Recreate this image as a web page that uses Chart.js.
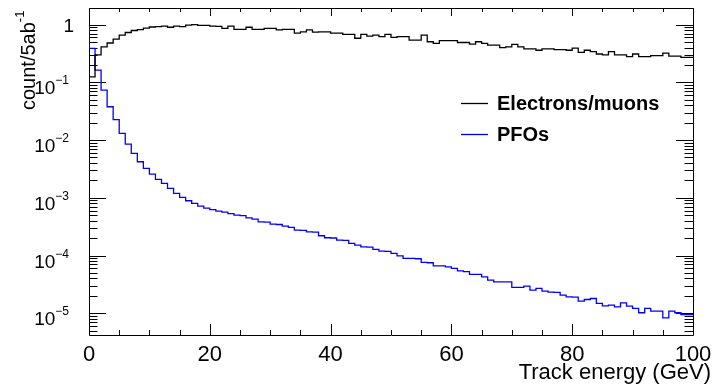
<!DOCTYPE html>
<html>
<head>
<meta charset="utf-8">
<script src="https://cdn.jsdelivr.net/npm/chart.js@4.4.1/dist/chart.umd.min.js"></script>
<style>
  html, body { margin: 0; padding: 0; background: #fff; }
</style>
</head>
<body>
<canvas id="chartEnergy" width="722" height="386"></canvas>
<script>
// histogram bins, 1 GeV wide, lower edges
const binLow = Array.from({ length: 100 }, (_, i) => i);
const binHigh = 100;

const leptonCounts = [
    0.012, 0.124, 0.30, 0.41, 0.48, 0.56, 0.66, 0.73, 0.79, 0.82,
    0.87, 0.91, 0.92, 0.945, 0.90, 0.945, 0.92, 0.98, 1.0, 0.97,
    0.97, 0.945, 0.93, 0.86, 0.945, 0.83, 0.83, 0.90, 0.83, 0.83,
    0.86, 0.86, 0.81, 0.83, 0.83, 0.71, 0.75, 0.81, 0.74, 0.75,
    0.75, 0.71, 0.71, 0.68, 0.68, 0.58, 0.68, 0.63, 0.66, 0.62,
    0.68, 0.60, 0.62, 0.62, 0.54, 0.54, 0.66, 0.505, 0.475, 0.53,
    0.53, 0.53, 0.49, 0.49, 0.46, 0.505, 0.475, 0.44, 0.44, 0.40,
    0.41, 0.455, 0.41, 0.38, 0.38, 0.36, 0.38, 0.38, 0.37, 0.37,
    0.36, 0.39, 0.33, 0.36, 0.34, 0.31, 0.30, 0.34, 0.30, 0.30,
    0.28, 0.31, 0.28, 0.28, 0.29, 0.29, 0.32, 0.285, 0.285, 0.27
];

const pfoCounts = [
    1.0, 0.388, 0.163, 0.0736, 0.0378, 0.0226, 0.0131, 0.00853, 0.00588, 0.00421,
    0.00323, 0.00258, 0.00209, 0.00178, 0.00146, 0.00119, 0.00102, 0.000888, 0.000800, 0.000718,
    0.000663, 0.000625, 0.000588, 0.000565, 0.000532, 0.000501, 0.000490, 0.000450, 0.000427, 0.000384,
    0.000380, 0.000350, 0.000345, 0.000323, 0.000307, 0.000275, 0.000272, 0.000257, 0.000255, 0.000220,
    0.000203, 0.000201, 0.000185, 0.000183, 0.000162, 0.000151, 0.000141, 0.000140, 0.000128, 0.000119,
    0.000118, 0.000109, 0.0000988, 0.0000891, 0.000089, 0.000088, 0.0000760, 0.000075, 0.0000663, 0.000066,
    0.0000637, 0.0000597, 0.0000543, 0.0000526, 0.0000470, 0.000047, 0.0000428, 0.0000375, 0.0000350, 0.000035,
    0.000035, 0.0000280, 0.000028, 0.0000295, 0.0000251, 0.0000269, 0.0000242, 0.0000232, 0.000023, 0.0000206,
    0.0000192, 0.000019, 0.0000162, 0.0000173, 0.0000180, 0.0000148, 0.0000134, 0.0000138, 0.0000129, 0.0000151,
    0.0000133, 0.0000121, 0.0000102, 0.0000121, 0.0000109, 0.0000109, 0.0000083, 0.0000109, 0.0000102, 0.0000095
];

const seriesNames = ['Electrons/muons', 'PFOs'];
const xTickLabels = [0, 20, 40, 60, 80, 100];
const yTickExponents = [0, -1, -2, -3, -4, -5];
const yRange = [4.2e-6, 1.94];

const FONT = '"Liberation Sans", Arial, Helvetica, sans-serif';

// step histogram -> points at bin edges
function toSteps(vals) {
    const pts = binLow.map((x, i) => ({ x: x, y: vals[i] }));
    pts.push({ x: binHigh, y: vals[vals.length - 1] });
    return pts;
}

// frame + inward ticks, drawn under the histograms like ROOT does
const rootAxes = {
    id: 'rootAxes',
    beforeDatasetsDraw(chart) {
        const ctx = chart.ctx;
        const area = chart.chartArea;
        const sx = chart.scales.x;
        const sy = chart.scales.y;
        const L = area.left, R = area.right, T = area.top, B = area.bottom;

        ctx.save();
        ctx.strokeStyle = '#000';
        ctx.lineWidth = 1;

        ctx.beginPath();
        ctx.rect(Math.round(L) + 0.5, Math.round(T) + 0.5, Math.round(R - L), Math.round(B - T));
        ctx.stroke();

        ctx.beginPath();
        for (let v = 0; v <= 100; v += 5) {
            const px = Math.round(sx.getPixelForValue(v)) + 0.5;
            const major = v % 20 === 0;
            const lb = major ? 11 : 5;
            const lt = major ? 8 : 4;
            ctx.moveTo(px, B); ctx.lineTo(px, B - lb);
            ctx.moveTo(px, T); ctx.lineTo(px, T + lt);
        }
        for (let d = -6; d <= 0; d++) {
            for (let m = 1; m <= 9; m++) {
                const v = m * Math.pow(10, d);
                if (v < yRange[0] || v > yRange[1]) continue;
                const py = Math.round(sy.getPixelForValue(v)) + 0.5;
                const len = m === 1 ? 17 : 8.5;
                ctx.moveTo(L, py); ctx.lineTo(L + len, py);
                ctx.moveTo(R, py); ctx.lineTo(R - len, py);
            }
        }
        ctx.stroke();
        ctx.restore();
    },
    afterDraw(chart) {
        const ctx = chart.ctx;
        const sx = chart.scales.x;
        const sy = chart.scales.y;

        ctx.save();
        ctx.fillStyle = '#000';

        // x labels
        ctx.font = '22px ' + FONT;
        ctx.textAlign = 'center';
        ctx.textBaseline = 'alphabetic';
        xTickLabels.forEach(v => {
            ctx.fillText(String(v), sx.getPixelForValue(v), 361);
        });

        // y labels, 10 with superscript exponent
        yTickExponents.forEach(e => {
            const py = sy.getPixelForValue(Math.pow(10, e));
            if (e === 0) {
                ctx.font = '19px ' + FONT;
                ctx.textAlign = 'right';
                ctx.fillText('1', 74, py + 7);
                return;
            }
            const sup = '\u2212' + String(-e);
            ctx.font = '12px ' + FONT;
            const wSup = ctx.measureText(sup).width;
            ctx.textAlign = 'right';
            ctx.fillText(sup, 69, py + 2);
            ctx.font = '19px ' + FONT;
            ctx.fillText('10', 69 - wSup, py + 12);
        });

        // axis titles
        ctx.font = '22px ' + FONT;
        ctx.textAlign = 'right';
        ctx.fillText('Track energy (GeV)', 711, 379);

        ctx.save();
        ctx.translate(35, 110);
        ctx.rotate(-Math.PI / 2);
        ctx.textAlign = 'left';
        ctx.font = '20px ' + FONT;
        ctx.fillText('count/5ab', 0, 0);
        const wMain = ctx.measureText('count/5ab').width;
        ctx.font = '13px ' + FONT;
        ctx.fillText('-1', wMain, -11);
        ctx.restore();

        // legend
        const colors = chart.data.datasets.map(ds => ds.borderColor);
        ctx.font = 'bold 20px ' + FONT;
        ctx.textAlign = 'left';
        [103, 134].forEach((ly, i) => {
            ctx.strokeStyle = colors[i];
            ctx.lineWidth = 1.3;
            ctx.beginPath();
            ctx.moveTo(461, ly + 0.5);
            ctx.lineTo(488, ly + 0.5);
            ctx.stroke();
            ctx.fillText(seriesNames[i], 497, ly + 7);
        });

        ctx.restore();
    }
};

new Chart(document.getElementById('chartEnergy'), {
    type: 'line',
    data: {
        datasets: [
            { label: seriesNames[0], data: toSteps(leptonCounts), borderColor: '#000000', borderWidth: 1.3, stepped: 'after', pointRadius: 0, fill: false, tension: 0 },
            { label: seriesNames[1], data: toSteps(pfoCounts), borderColor: '#0000ff', borderWidth: 1.3, stepped: 'after', pointRadius: 0, fill: false, tension: 0 }
        ]
    },
    options: {
        responsive: false,
        animation: false,
        devicePixelRatio: 1,
        layout: { padding: { top: 8, right: 29, left: 0, bottom: 0 } },
        plugins: { legend: { display: false }, tooltip: { enabled: false } },
        scales: {
            x: {
                type: 'linear', min: 0, max: 100,
                ticks: { display: false }, grid: { display: false }, border: { display: false },
                afterFit: s => { s.height = 51; }
            },
            y: {
                type: 'logarithmic', min: yRange[0], max: yRange[1],
                ticks: { display: false }, grid: { display: false }, border: { display: false },
                afterFit: s => { s.width = 89; }
            }
        }
    },
    plugins: [rootAxes]
});
</script>
</body>
</html>
